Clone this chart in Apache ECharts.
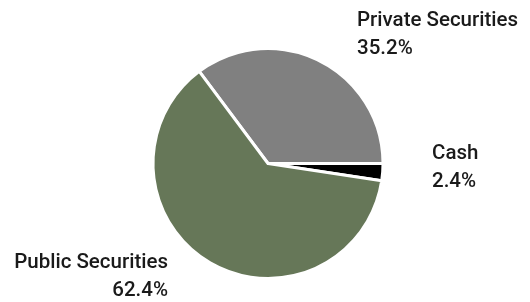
<!DOCTYPE html>
<html>
<head>
<meta charset="utf-8">
<script src="https://cdn.jsdelivr.net/npm/echarts@6/dist/echarts.min.js"></script>
<style>
  html, body { margin: 0; padding: 0; background: #fff; }
  #chart { width: 530px; height: 302px; }
</style>
</head>
<body>
<div id="chart"></div>
<script>
// slices, clockwise from the upper-left edge
const names = ['Private Securities', 'Cash', 'Public Securities']
const values = [35.2, 2.4, 62.4]
const colors = ['#808080', '#000000', '#667758']

// where each label block sits (x, vertical middle, alignment)
const labelSpots = [
  { x: 357, y: 35, align: 'left' },
  { x: 432, y: 168, align: 'left' },
  { x: 168, y: 277, align: 'right' }
]

const chart = echarts.init(document.getElementById('chart'))

const data = names.map((n, i) => ({
  name: n,
  value: values[i],
  itemStyle: { color: colors[i] }
}))

chart.setOption({
  animation: false,
  series: [{
    type: 'pie',
    center: [268, 163.5],
    radius: 115,
    startAngle: 126.72,
    clockwise: true,
    itemStyle: { borderColor: '#fff', borderWidth: 3 },
    label: {
      show: true,
      position: 'outside',
      color: '#1a1a1a',
      fontFamily: 'Roboto',
      fontWeight: 500,
      fontSize: 20.5,
      lineHeight: 28,
      overflow: 'none',
      formatter: p => p.name + '\n' + p.value.toFixed(1) + '%'
    },
    labelLine: { show: false },
    labelLayout: p => {
      const s = labelSpots[p.dataIndex]
      return { x: s.x, y: s.y, align: s.align, verticalAlign: 'middle' }
    },
    emphasis: { disabled: true },
    data: data
  }]
})
</script>
</body>
</html>
